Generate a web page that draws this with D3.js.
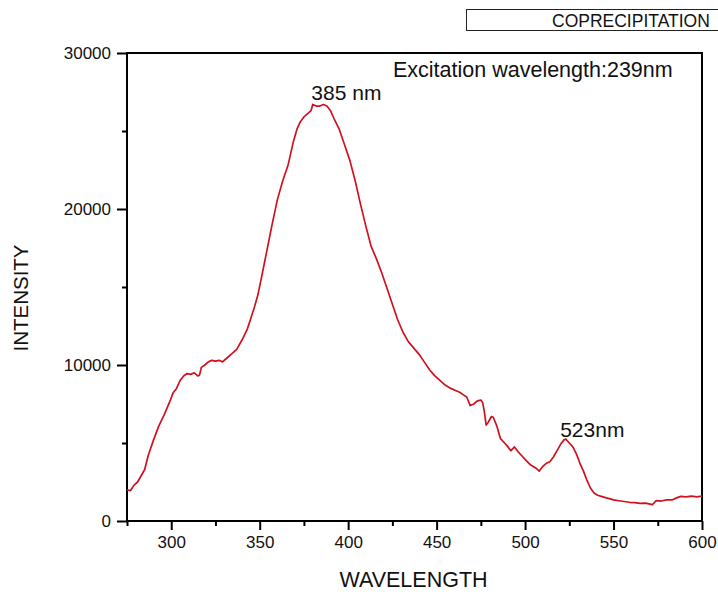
<!DOCTYPE html>
<html><head><meta charset="utf-8">
<script src="https://cdn.jsdelivr.net/npm/d3@7"></script>
<style>
body{margin:0;background:#fff;}
svg{display:block;font-family:"Liberation Sans",Arial,sans-serif;}
</style></head>
<body><svg id="c" width="718" height="592"></svg>
<script>
const wavelength = [275,277,279,281,283,285,287,290,293,296,299,301,303,305,307,309,311,313,315,316,317,319,321,323,325,327,329,331,334,337,340,343,345,347,349,351,354,357,360,363,366,369,371,373,375,377,379,380,382,384,386,388,390,392,395,398,401,404,407,410,413,416,419,422,425,428,431,434,437,440,443,446,449,452,455,458,461,463,465,467,469,471,473,475,476,477,478,479,481,482,484,486,488,490,492,494,496,498,500,503,506,508,510,512,514,516,518,520,522,523,525,527,529,531,533,535,537,539,541,544,547,550,553,556,559,562,565,568,570,572,574,577,580,583,586,588,591,594,597,600];
const intensity = [2000,1950,2300,2500,2900,3300,4200,5200,6100,6800,7600,8200,8500,9000,9300,9450,9400,9500,9300,9350,9850,10000,10200,10300,10250,10300,10200,10400,10700,11000,11600,12300,13000,13700,14500,15600,17300,19000,20600,21800,22800,24300,25100,25600,25900,26100,26300,26700,26600,26600,26700,26600,26300,25800,25100,24100,23100,21800,20300,18900,17600,16800,15900,14900,13900,12900,12100,11500,11100,10700,10200,9700,9300,9000,8700,8500,8350,8250,8100,7950,7400,7500,7700,7750,7600,7000,6150,6300,6700,6650,6100,5300,5050,4800,4500,4750,4450,4200,3950,3600,3400,3200,3500,3700,3800,4100,4500,4900,5200,5250,5000,4750,4300,3700,3200,2600,2100,1800,1650,1550,1450,1350,1300,1250,1200,1180,1130,1150,1100,1050,1300,1280,1350,1350,1500,1580,1550,1600,1550,1600];
const xMajorTicks = [300,350,400,450,500,550,600];
const xMinorTicks = [275,325,375,425,475,525,575];
const yMajorTicks = [0,10000,20000,30000];
const yMinorTicks = [5000,15000,25000];
// label anchors (text centre, baseline) in data coordinates
const peakLabels = [{text:"385 nm", w:399, v:27000}, {text:"523nm", w:538, v:5380}];

const svg = d3.select("#c");
const L=127, R=702, T=53, B=521;
const x = d3.scaleLinear().domain([275,600]).range([L,R]);
const y = d3.scaleLinear().domain([0,30000]).range([B,T]);

// title box (clipped at right)
svg.append("rect").attr("x",466.5).attr("y",9.5).attr("width",300).attr("height",21)
  .attr("fill","none").attr("stroke","#222").attr("stroke-width",1);
svg.append("text").attr("x",552).attr("y",27).attr("font-size",17.5).attr("fill","#111")
  .text("COPRECIPITATION");

// frame
svg.append("rect").attr("x",L).attr("y",T).attr("width",R-L).attr("height",B-T)
  .attr("fill","none").attr("stroke","#000").attr("stroke-width",2);

// x axis
const gx = svg.append("g").attr("transform",`translate(0,${B})`);
gx.call(d3.axisBottom(x).tickValues(xMajorTicks).tickSize(9).tickFormat(d3.format("d")).tickPadding(6));
gx.append("g").call(d3.axisBottom(x).tickValues(xMinorTicks).tickSize(5).tickFormat(""));
gx.selectAll(".domain").remove();
gx.selectAll("line").attr("stroke","#000").attr("stroke-width",2);
gx.selectAll("text").attr("font-size",17).attr("fill","#111").attr("font-family","Liberation Sans, Arial, sans-serif");

// y axis
const gy = svg.append("g").attr("transform",`translate(${L},0)`);
gy.call(d3.axisLeft(y).tickValues(yMajorTicks).tickSize(10).tickFormat(d3.format("d")).tickPadding(6));
gy.append("g").call(d3.axisLeft(y).tickValues(yMinorTicks).tickSize(5).tickFormat(""));
gy.selectAll(".domain").remove();
gy.selectAll("line").attr("stroke","#000").attr("stroke-width",2);
gy.selectAll("text").attr("font-size",17).attr("fill","#111").attr("font-family","Liberation Sans, Arial, sans-serif");

// line
const data = wavelength.map((w,i)=>({w, v:intensity[i]}));
svg.append("path").datum(data)
  .attr("fill","none").attr("stroke","#d0121e").attr("stroke-width",1.7).attr("stroke-linejoin","round")
  .attr("d", d3.line().x(d=>x(d.w)).y(d=>y(d.v)));

// annotations
svg.append("text").attr("x",393).attr("y",77).attr("font-size",21.5).attr("fill","#111")
  .text("Excitation wavelength:239nm");
svg.selectAll(".pk").data(peakLabels).join("text").attr("class","pk")
  .attr("x",d=>x(d.w)).attr("y",d=>y(d.v)).attr("text-anchor","middle")
  .attr("font-size",21).attr("fill","#111").text(d=>d.text);

// axis titles
svg.append("text").attr("x",413.5).attr("y",586.5).attr("text-anchor","middle")
  .attr("font-size",21.5).attr("fill","#111").text("WAVELENGTH");
svg.append("text").attr("transform","translate(28,298) rotate(-90)").attr("text-anchor","middle")
  .attr("font-size",20.5).attr("fill","#111").text("INTENSITY");
</script></body></html>
